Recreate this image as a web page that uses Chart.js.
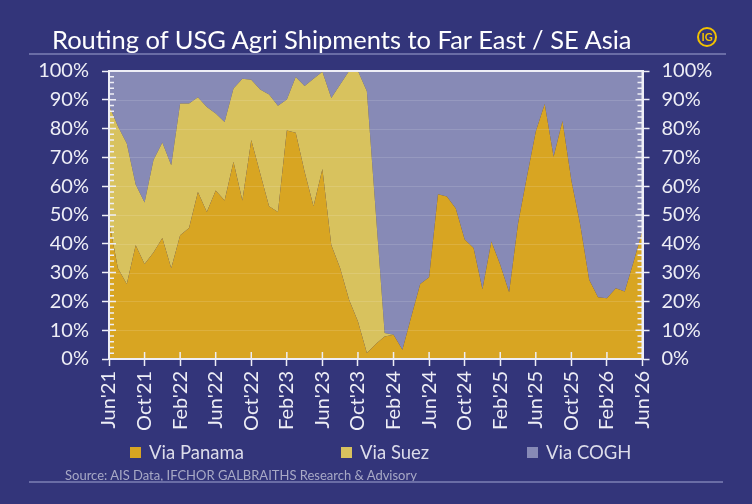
<!DOCTYPE html>
<html>
<head>
<meta charset="utf-8">
<script src="https://cdn.jsdelivr.net/npm/chart.js@4/dist/chart.umd.min.js"></script>
<style>
    body { margin: 0; background: #33357a; }
    #wrap { position: relative; width: 752px; height: 504px; background: #33357a; overflow: hidden; font-family: Lato, sans-serif; }
    #chart { position: absolute; left: 0; top: 0; }
    #title { position: absolute; left: 52px; top: 24px; color: #ffffff; font-size: 25.5px; line-height: 31px; white-space: nowrap; }
    #logo { position: absolute; left: 697px; top: 27px; width: 16px; height: 16px; border: 2px solid #f2c200; border-radius: 50%;
            color: #f2c200; font-size: 11px; font-weight: bold; text-align: center; line-height: 16px; }
    .rule { position: absolute; height: 2px; background: #6a6da6; }
    #legend { position: absolute; top: 441px; left: 0; width: 752px; height: 22px; }
    .item { position: absolute; top: 0; color: #dcdcea; font-size: 18.5px; line-height: 22px; white-space: nowrap; }
    .item span { display: inline-block; width: 11px; height: 11px; margin-right: 8px; vertical-align: 1px; }
    #source { position: absolute; left: 65px; top: 467px; color: #a8a9c6; font-size: 13px; white-space: nowrap; }
</style>
</head>
<body>
<div id="wrap">
    <canvas id="chart" width="752" height="504"></canvas>
    <div id="title">Routing of USG Agri Shipments to Far East / SE Asia</div>
    <div id="logo">IG</div>
    <div class="rule" style="left:29px; top:53px; width:697px;"></div>
    <div id="legend"></div>
    <div id="source">Source: AIS Data, IFCHOR GALBRAITHS Research &amp; Advisory</div>
    <div class="rule" style="left:29px; top:481px; width:694px;"></div>
</div>
<script>
// monthly, Jun'21 .. Jun'26
const months = [
    "Jun'21", "Jul'21", "Aug'21", "Sep'21", "Oct'21", "Nov'21", "Dec'21", "Jan'22", "Feb'22", "Mar'22", "Apr'22", "May'22",
    "Jun'22", "Jul'22", "Aug'22", "Sep'22", "Oct'22", "Nov'22", "Dec'22", "Jan'23", "Feb'23", "Mar'23", "Apr'23", "May'23",
    "Jun'23", "Jul'23", "Aug'23", "Sep'23", "Oct'23", "Nov'23", "Dec'23", "Jan'24", "Feb'24", "Mar'24", "Apr'24", "May'24",
    "Jun'24", "Jul'24", "Aug'24", "Sep'24", "Oct'24", "Nov'24", "Dec'24", "Jan'25", "Feb'25", "Mar'25", "Apr'25", "May'25",
    "Jun'25", "Jul'25", "Aug'25", "Sep'25", "Oct'25", "Nov'25", "Dec'25", "Jan'26", "Feb'26", "Mar'26", "Apr'26", "May'26",
    "Jun'26"
];
const tickLabels = ["Jun'21", "Oct'21", "Feb'22", "Jun'22", "Oct'22", "Feb'23", "Jun'23", "Oct'23",
    "Feb'24", "Jun'24", "Oct'24", "Feb'25", "Jun'25", "Oct'25", "Feb'26", "Jun'26"];

const viaPanama = [48, 31.5, 26, 39.5, 33, 37, 42, 31.5, 43, 45.5,
    58, 51, 58.5, 55, 68.5, 55, 76, 64.5, 53, 51,
    79.3, 78.6, 65, 53, 66, 39.6, 31.5, 20.6, 13, 2.1,
    5.2, 7.8, 8.4, 3.2, 14.8, 26, 28.4, 57.2, 56.4, 52.3,
    41.5, 38.5, 24.2, 40.8, 32.7, 23.2, 47, 63.3, 79, 88.5,
    70.2, 82.6, 62, 46.5, 27.5, 21.4, 21.1, 24.6, 23.4, 33.8,
    44.8];
const viaSuez = [40, 49.3, 48.8, 21.1, 21.3, 32.1, 33.2, 35.8, 45.7, 43.2,
    32.9, 36.5, 26.7, 27.3, 25.4, 42.3, 21, 29.1, 38.8, 36.9,
    10.8, 19.3, 29.8, 44.3, 33.7, 51, 63.8, 79.4, 87, 90.9,
    45.8, 1.2, 0, 0, 0, 0, 0, 0, 0, 0,
    0, 0, 0, 0, 0, 0, 0, 0, 0, 0,
    0, 0, 0, 0, 0, 0, 0, 0, 0, 0,
    0];
const viaCOGH = [12, 19.2, 25.2, 39.4, 45.7, 30.9, 24.8, 32.7, 11.3, 11.3,
    9.1, 12.5, 14.8, 17.7, 6.1, 2.7, 3, 6.4, 8.2, 12.1,
    9.9, 2.1, 5.2, 2.7, 0.3, 9.4, 4.7, 0, 0, 7,
    49, 91, 91.6, 96.8, 85.2, 74, 71.6, 42.8, 43.6, 47.7,
    58.5, 61.5, 75.8, 59.2, 67.3, 76.8, 53, 36.7, 21, 11.5,
    29.8, 17.4, 38, 53.5, 72.5, 78.6, 78.9, 75.4, 76.6, 66.2,
    55.2];

const seriesNames = ['Via Panama', 'Via Suez', 'Via COGH'];
const seriesColors = ['#d8a522', '#d8c25e', '#878ab6'];
const seriesLeft = [130, 341, 527];

const AXIS = '#eeeef6';
const tickFont = { family: 'Lato', size: 20 };

// gridlines + inner tick marks drawn over the areas, like the original
const overlayPlugin = {
    id: 'overlay',
    afterDatasetsDraw(chart) {
        const { ctx, chartArea: a, scales } = chart;
        const y = scales.y;
        const x = scales.x;
        ctx.save();
        ctx.strokeStyle = 'rgba(255,255,255,0.13)';
        ctx.lineWidth = 1;
        for (let v = 10; v < 100; v += 10) {
            const py = Math.round(y.getPixelForValue(v)) + 0.5;
            ctx.beginPath(); ctx.moveTo(a.left, py); ctx.lineTo(a.right, py); ctx.stroke();
        }
        ctx.strokeStyle = AXIS;
        ctx.lineWidth = 1.5;
        for (let v = 0; v <= 100; v += 2) {
            const py = y.getPixelForValue(v);
            const len = v % 10 === 0 ? 7 : 5;
            ctx.beginPath();
            ctx.moveTo(a.left, py); ctx.lineTo(a.left + len, py);
            ctx.moveTo(a.right - len, py); ctx.lineTo(a.right, py);
            ctx.stroke();
        }
        months.forEach((m, i) => {
            if (!tickLabels.includes(m)) return;
            const px = x.getPixelForValue(i);
            ctx.beginPath(); ctx.moveTo(px, a.bottom); ctx.lineTo(px, a.bottom - 7); ctx.stroke();
        });
        // frame
        ctx.lineWidth = 2;
        ctx.beginPath();
        ctx.moveTo(a.left, a.top); ctx.lineTo(a.right, a.top);
        ctx.moveTo(a.left, a.top); ctx.lineTo(a.left, a.bottom); ctx.lineTo(a.right, a.bottom); ctx.lineTo(a.right, a.top);
        ctx.stroke();
        ctx.restore();
    }
};

const yTicks = {
    color: AXIS,
    font: tickFont,
    stepSize: 10,
    callback: function(value) { return value + '%'; }
};

new Chart(document.getElementById('chart'), {
    type: 'line',
    data: {
        labels: months,
        datasets: [viaPanama, viaSuez, viaCOGH].map((values, i) => ({
            label: seriesNames[i],
            data: values,
            backgroundColor: seriesColors[i],
            borderWidth: 0,
            pointRadius: 0,
            tension: 0,
            fill: i === 0 ? 'origin' : '-1',
            yAxisID: 'y'
        }))
    },
    options: {
        responsive: false,
        animation: false,
        layout: { padding: { top: 71, left: 0, right: 0, bottom: 0 } },
        plugins: {
            legend: { display: false },
            tooltip: { enabled: false }
        },
        scales: {
            x: {
                afterFit: function(scale) { scale.height = 145; },
                grid: { drawOnChartArea: false, tickLength: 7, tickColor: AXIS, tickWidth: 1.5 },
                border: { color: AXIS, width: 2 },
                ticks: {
                    color: AXIS,
                    font: tickFont,
                    autoSkip: false,
                    minRotation: 90,
                    maxRotation: 90,
                    padding: 5,
                    callback: function(value) {
                        const label = months[value];
                        return tickLabels.includes(label) ? label : null;
                    }
                }
            },
            y: {
                stacked: true,
                min: 0,
                max: 100,
                afterFit: function(scale) { scale.width = 109; },
                grid: { drawOnChartArea: false, tickLength: 7, tickColor: AXIS, tickWidth: 1.5 },
                border: { color: AXIS, width: 2 },
                ticks: Object.assign({ padding: 13 }, yTicks)
            },
            y2: {
                position: 'right',
                min: 0,
                max: 100,
                afterFit: function(scale) { scale.width = 109.5; },
                grid: { drawOnChartArea: false, tickLength: 7, tickColor: AXIS, tickWidth: 1.5 },
                border: { color: AXIS, width: 2 },
                ticks: Object.assign({ padding: 12 }, yTicks)
            }
        }
    },
    plugins: [overlayPlugin]
});

// legend
const legend = document.getElementById('legend');
seriesNames.forEach((name, i) => {
    const item = document.createElement('div');
    item.className = 'item';
    item.style.left = seriesLeft[i] + 'px';
    item.innerHTML = '<span style="background:' + seriesColors[i] + '"></span>' + name;
    legend.appendChild(item);
});
</script>
</body>
</html>
